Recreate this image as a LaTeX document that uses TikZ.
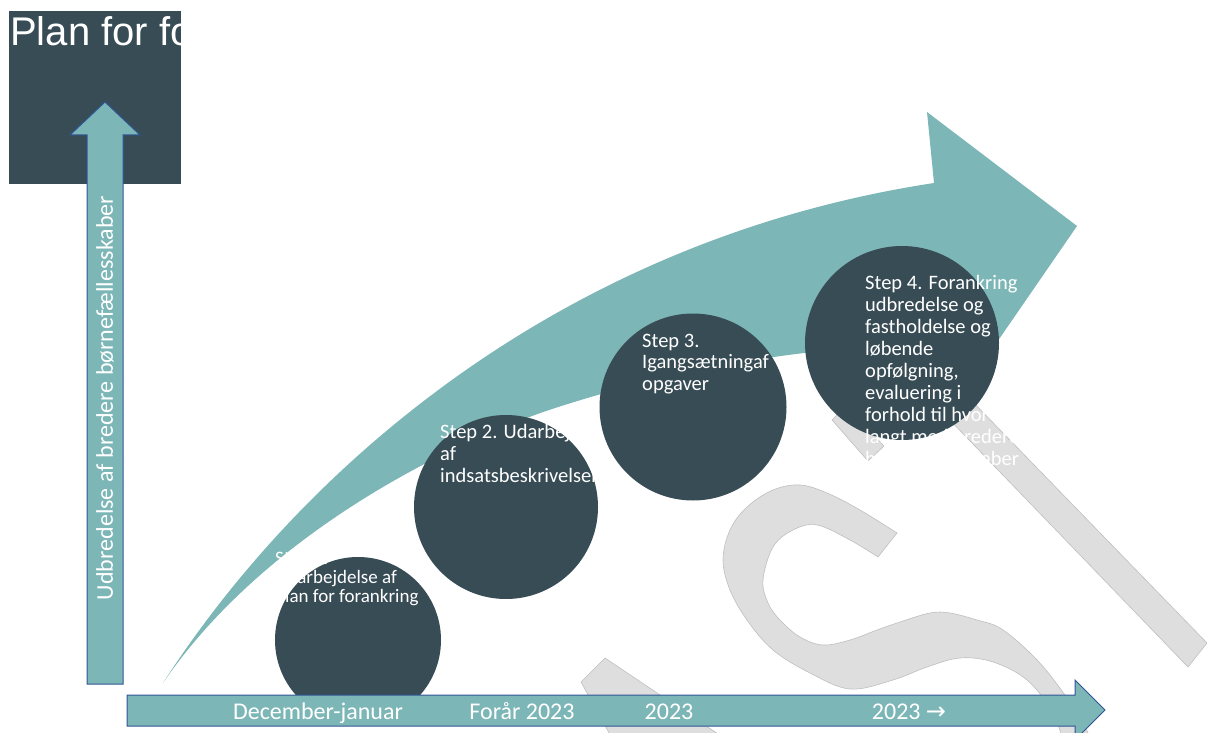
\documentclass[tikz,border=0pt]{standalone}
\usepackage{fontspec}
\setmainfont{Carlito}
\newfontfamily\titlefont{Liberation Sans}
\newfontfamily\symfont{DejaVu Sans}
\definecolor{tealfill}{HTML}{7DB6B6}
\definecolor{darkfill}{HTML}{384C55}
\definecolor{edgeblue}{HTML}{2F5597}
\definecolor{wmfill}{HTML}{DEDEDE}
\definecolor{wmline}{HTML}{BFBFBF}

\begin{document}
\begin{tikzpicture}[
            x=1pt, y=-1pt,                 % 1 像素 = 1pt
            wm/.style={fill=wmfill, draw=wmline, line width=0.6pt},
            bigarrow/.style={fill=tealfill},
            axisarrow/.style={fill=tealfill, draw=edgeblue, line width=1pt},
            stepcircle/.style={circle, fill=darkfill, minimum size=#1, inner sep=0pt},
            steptext/.style={anchor=base west, align=left, text=white, inner sep=0pt},
            axislabel/.style={anchor=base, text=white, inner sep=0pt,
                font=\fontsize{24}{28}\selectfont}
        ]
            \useasboundingbox (0,0) rectangle (1207,733);

            % 水印
            \filldraw[wm] (581,682) -- (605,658) -- (727,740) -- (613,740) -- cycle;
            \filldraw[wm] plot[smooth, tension=0.6] coordinates {(897,533) (860,510) (827,493) (800,485)
                (773,490) (747,507) (730,530) (723,560) (730,590) (747,620) (773,650) (810,673)
                (850,689) (893,680) (927,667) (960,658) (993,662) (1027,680) (1053,713) (1064,745)}
                -- plot[smooth, tension=0.6] coordinates {(1094,745) (1077,713) (1050,675) (1027,650)
                (1000,628) (977,620) (950,613) (930,613) (900,622) (877,630) (850,640) (823,645)
                (800,637) (780,620) (768,603) (763,580) (773,547) (793,530) (817,525) (850,540)
                (878,557)} -- cycle;
            \filldraw[wm] (863,330) -- (903,330) -- (1207,643) -- (1188,667) -- cycle;
            \filldraw[wm] (832,420) -- (846,406) -- (884,446) -- (868,461) -- cycle;

            % 大箭头
            \fill[bigarrow] (163,683) .. controls (300,470) and (560,240) .. (934,183)
                -- (927,112) -- (1077,226) -- (995,345)
                .. controls (850,340) and (700,360) .. (546,411)
                .. controls (420,455) and (255,548) .. (163,683) -- cycle;

            % 圆形节点和文字 (坐标为最后一行的基线)
            \node[stepcircle=166] (s1) at (358,640) {};
            \node[steptext, font=\fontsize{19}{19}\selectfont] (t1) at (275,602)
                {Step 1.\\Udarbejdelse af\\plan for forankring};
            \node[stepcircle=184] (s2) at (506,507) {};
            \node[steptext, font=\fontsize{20.5}{22}\selectfont] (t2) at (440,482)
                {Step 2. Udarbejdelse\\af\\indsatsbeskrivelser};
            \node[stepcircle=187] (s3) at (693,407) {};
            \node[steptext, font=\fontsize{20.5}{21.5}\selectfont] (t3) at (642,390)
                {Step 3.\\Igangsætningaf\\opgaver};
            \node[stepcircle=194] (s4) at (902,343) {};
            \node[steptext, font=\fontsize{20.5}{21.9}\selectfont] (t4) at (865,465)
                {Step 4. Forankring\\udbredelse og\\fastholdelse og\\løbende\\opfølgning,\\evaluering i\\forhold til hvor\\langt med bredere\\børnefællesskaber};

            % 时间轴
            \filldraw[axisarrow] (127,695) -- (1075,695) -- (1075,680) -- (1105,710)
                -- (1075,740) -- (1075,726) -- (127,726) -- cycle;
            \node[axislabel] (l1) at (318,719) {December-januar};
            \node[axislabel] (l2) at (522,719) {Forår 2023};
            \node[axislabel] (l3) at (669,719) {2023};
            \node[axislabel] (l4) at (909,719) {2023 {\symfont →}};

            % 标题框
            \fill[darkfill] (9,11) rectangle (181,184);
            \begin{scope}
                \clip (9,11) rectangle (181,184);
                \node[anchor=base west, inner sep=0pt, text=white,
                    font=\titlefont\fontsize{40}{44}\selectfont] (title) at (10,46) {Plan for forankring};
            \end{scope}

            % 纵轴
            \filldraw[axisarrow] (87,684) -- (87,135) -- (70,135) -- (105,102) -- (140,135)
                -- (123,135) -- (123,684) -- cycle;
            \node[rotate=90, text=white, inner sep=0pt, font=\fontsize{24}{28}\selectfont]
                (vlab) at (105,398) {Udbredelse af bredere børnefællesskaber};
        \end{tikzpicture}
\end{document}
